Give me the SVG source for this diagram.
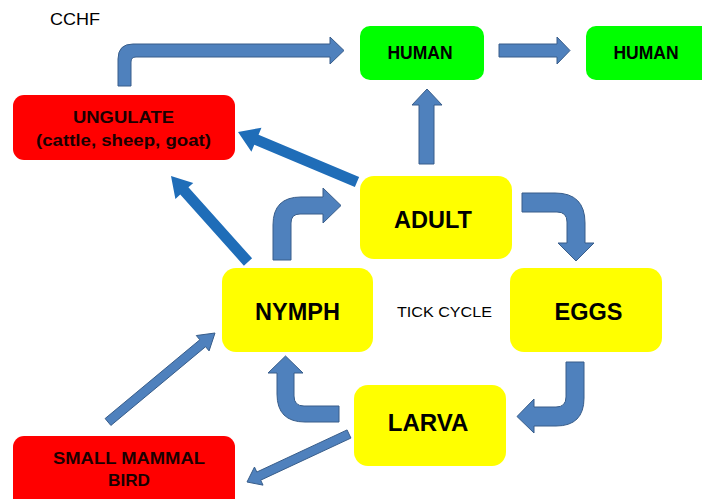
<svg xmlns="http://www.w3.org/2000/svg" width="702" height="499" viewBox="0 0 702 499">
<style>
.red{fill:#FF0000}
.green{fill:#00FF00}
.yellow{fill:#FFFF00}
.blk{fill:#4F81BD;stroke:#385D8A;stroke-width:1;stroke-linejoin:miter}
.dark{fill:#1F6DB8}
text{font-family:"Liberation Sans",Arial,sans-serif;text-anchor:middle}
.b{font-weight:bold;fill:#000}
.rt{font-weight:bold;fill:#1a0000;font-size:16.5px}
</style>
<rect width="702" height="499" fill="#FFFFFF"/>
<text x="50" y="25" style="text-anchor:start;font-size:16px" textLength="50" lengthAdjust="spacingAndGlyphs">CCHF</text>
<g id="connectors">
<path class="blk" d="M118,86 L118,59 Q118,44 133,44 L330,44 L330,37 L344,50.5 L330,64 L330,57 L136,57 Q131,57 131,62 L131,86 Z"/>
<path class="blk" d="M499,44 L557,44 L557,37 L570,50.5 L557,64 L557,57 L499,57 Z"/>
<path class="blk" d="M419,164 L419,105 L412,105 L427,89 L442,105 L434,105 L434,164 Z"/>
<polygon class="dark" points="359.13,176.93 258.57,134.68 261.48,127.77 238,132 251.40,151.73 254.31,144.82 354.87,187.07"/>
<polygon class="dark" points="252.10,258.33 188.44,187.23 193.28,182.9 171,176 175.40,198.9 180.24,194.57 243.90,265.67"/>
<path class="blk" d="M273,260 L273,225 Q273,197 301,197 L323,197 L323,188 L341,205.5 L323,223 L323,214 L300,214 Q291,214 291,223 L291,260 Z"/>
<path class="blk" d="M522,193 L555,193 Q585,193 585,223 L585,243 L594,243 L576,261 L558,243 L567,243 L567,222 Q567,212 557,212 L522,212 Z"/>
<path class="blk" d="M566,362 L584,362 L584,398 Q584,426 556,426 L534,426 L534,433 L517,416.5 L534,399 L534,407 L556,407 Q566,407 566,397 Z"/>
<path class="blk" d="M339,406 L304,406 Q294,406 294,396 L294,373 L303,373 L285.5,356 L268,373 L277,373 L277,394 Q277,422 305,422 L339,422 Z"/>
<polygon class="blk" points="110.88,425.46 205.58,346.69 209.09,350.92 215,333 196.31,335.54 199.82,339.77 105.12,418.54"/>
<polygon class="blk" points="347.07,429.93 256.83,472.03 254.48,467.06 247,482 263.04,485.14 260.69,480.17 350.93,438.07"/>
</g>
<g id="human1"><rect class="green" x="360" y="26" width="124" height="54" rx="10"/><text class="b" x="420" y="59" style="font-size:17.5px">HUMAN</text></g>
<g id="human2"><rect class="green" x="586" y="26" width="130" height="54" rx="10"/><text class="b" x="646" y="59" style="font-size:17.5px">HUMAN</text></g>
<g id="ungulate"><rect class="red" x="13" y="95" width="222" height="65" rx="11"/>
<text class="rt" x="123.5" y="123" textLength="101" lengthAdjust="spacingAndGlyphs">UNGULATE</text>
<text class="rt" x="123.5" y="146" textLength="175" lengthAdjust="spacingAndGlyphs">(cattle, sheep, goat)</text></g>
<g id="adult"><rect class="yellow" x="360" y="176" width="152" height="83" rx="14"/><text class="b" x="433" y="228" style="font-size:23.5px">ADULT</text></g>
<g id="nymph"><rect class="yellow" x="222" y="268" width="151" height="84" rx="14"/><text class="b" x="297.5" y="320" style="font-size:23.5px">NYMPH</text></g>
<g id="eggs"><rect class="yellow" x="510" y="268" width="152" height="84" rx="14"/><text class="b" x="588.5" y="320" style="font-size:23.5px">EGGS</text></g>
<g id="larva"><rect class="yellow" x="354" y="385" width="152" height="81" rx="14"/><text class="b" x="428" y="431" style="font-size:24px">LARVA</text></g>
<g id="tickcycle"><text x="444.5" y="317" style="font-size:15px" textLength="95" lengthAdjust="spacingAndGlyphs">TICK CYCLE</text></g>
<g id="smallmammal"><rect class="red" x="13" y="436" width="222" height="80" rx="11"/>
<text class="rt" x="129" y="464" textLength="152" lengthAdjust="spacingAndGlyphs">SMALL MAMMAL</text>
<text class="rt" x="129" y="486" textLength="42" lengthAdjust="spacingAndGlyphs">BIRD</text></g>
</svg>
